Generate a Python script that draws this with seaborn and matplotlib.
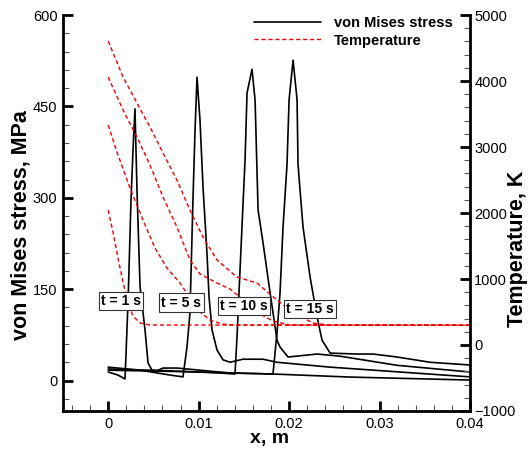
import numpy as np
import pandas as pd
import matplotlib
matplotlib.use("Agg")
import matplotlib.pyplot as plt
import seaborn as sns
from matplotlib.ticker import MultipleLocator, FixedLocator
from matplotlib.lines import Line2D

# ---------------- data ----------------
times = ["t = 1 s", "t = 5 s", "t = 10 s", "t = 15 s"]

# von Mises stress (MPa) along x (m)
s1_x = [0, 0.00108, 0.00186, 0.0022, 0.00252, 0.00274, 0.00296, 0.00318, 0.00352, 0.00407,
        0.0044, 0.00484, 0.0054, 0.00606, 0.00761, 0.01347, 0.01822, 0.02674, 0.04]
s1_y = [14, 9, 2.5, 132, 296, 378, 446, 313, 154, 83, 29, 17, 16, 20.5, 20.5, 12.3, 10.7, 5.7, 0.8]

s5_x = [0, 0.00352, 0.00683, 0.00827, 0.00871, 0.00904, 0.00937, 0.0096, 0.00982, 0.01015,
        0.01048, 0.01092, 0.01115, 0.01148, 0.01203, 0.0127, 0.01347, 0.0149, 0.01711, 0.01866,
        0.02452, 0.03226, 0.04]
s5_y = [22, 17, 9, 6, 55, 111, 296, 411, 498, 427, 318, 209, 137, 83, 50, 34, 30, 35, 35, 30,
        22, 14, 6]

s10_x = [0, 0.00683, 0.01236, 0.01402, 0.01424, 0.01446, 0.01479, 0.01513, 0.01535, 0.0159,
         0.01624, 0.01657, 0.01712, 0.0179, 0.01867, 0.019, 0.01988, 0.02309, 0.02563, 0.03193, 0.04]
s10_y = [19, 16, 12.3, 10.7, 71, 144, 252, 362, 472, 511, 460, 280, 226, 144, 66, 55, 38.6, 43.5,
         40, 25, 14]

s15_x = [0, 0.01015, 0.01822, 0.01866, 0.019, 0.01933, 0.01977, 0.02, 0.02044, 0.02088, 0.02099,
         0.02154, 0.02232, 0.0231, 0.02365, 0.02454, 0.02753, 0.02929, 0.03195, 0.03559, 0.04]
s15_y = [17, 14, 10.7, 78, 144, 252, 354, 461, 526, 461, 354, 252, 170, 104, 66, 45, 43.5, 43.5,
         38.6, 30, 25.5]

# Temperature (K) along x (m)
t1_x = [0, 0.00053, 0.00108, 0.00164, 0.00219, 0.00274, 0.00352, 0.00462, 0.04]
t1_y = [2045, 1712, 1318, 955, 636, 439, 333, 303, 300]

t5_x = [0, 0.00097, 0.00241, 0.00385, 0.00517, 0.0065, 0.00794, 0.00904, 0.01015, 0.01126,
        0.01258, 0.01402, 0.04]
t5_y = [3333, 2924, 2379, 1894, 1470, 1167, 939, 712, 500, 379, 318, 303, 300]

t10_x = [0, 0.00164, 0.00318, 0.00462, 0.00606, 0.0076, 0.00904, 0.01015, 0.01203, 0.01347,
         0.01535, 0.01679, 0.01822, 0.02011, 0.04]
t10_y = [4061, 3561, 3152, 2727, 2242, 1788, 1288, 1076, 939, 848, 636, 470, 364, 303, 300]

t15_x = [0, 0.00164, 0.00318, 0.00462, 0.00606, 0.0076, 0.00904, 0.01048, 0.01203, 0.01424,
         0.01645, 0.01866, 0.02044, 0.02265, 0.02454, 0.04]
t15_y = [4606, 4061, 3667, 3303, 2909, 2500, 2045, 1636, 1288, 1030, 939, 682, 485, 333, 300, 300]

# label positions (x, stress)
lab_x = [0.00145, 0.0081, 0.0150, 0.0223]
lab_y = [131, 128, 123, 118]

x_ticks = [0, 0.01, 0.02, 0.03, 0.04]
x_ticklabels = ["0", "0.01", "0.02", "0.03", "0.04"]

stress_sets = [(s1_x, s1_y), (s5_x, s5_y), (s10_x, s10_y), (s15_x, s15_y)]
temp_sets = [(t1_x, t1_y), (t5_x, t5_y), (t10_x, t10_y), (t15_x, t15_y)]

df_s = pd.concat([pd.DataFrame({"x": xs, "stress": ys, "time": t})
                  for t, (xs, ys) in zip(times, stress_sets)], ignore_index=True)
df_t = pd.concat([pd.DataFrame({"x": xs, "temp": ys, "time": t})
                  for t, (xs, ys) in zip(times, temp_sets)], ignore_index=True)

# ---------------- plot ----------------
sns.set_style("ticks")
plt.rcParams["font.family"] = ["Liberation Sans", "DejaVu Sans"]
for key in ("text.color", "axes.labelcolor", "xtick.color", "ytick.color", "axes.edgecolor"):
    plt.rcParams[key] = "black"

fig = plt.figure(figsize=(5.28, 4.51), dpi=100)
ax = fig.add_axes([0.1193, 0.0887, 0.7708, 0.878])
ax2 = ax.twinx()

sns.lineplot(data=df_s, x="x", y="stress", units="time", estimator=None, sort=False,
             color="black", linewidth=1.2, ax=ax, legend=False)
sns.lineplot(data=df_t, x="x", y="temp", units="time", estimator=None, sort=False,
             color="#ee0000", linewidth=1.0, linestyle=(0, (3, 2)), ax=ax2, legend=False)

ax.set_xlim(-0.005, 0.04)
ax.set_ylim(-50, 600)
ax2.set_ylim(-1000, 5000)

ax.xaxis.set_major_locator(FixedLocator(x_ticks))
ax.set_xticklabels(x_ticklabels)
ax.xaxis.set_minor_locator(MultipleLocator(0.002))
ax.yaxis.set_major_locator(MultipleLocator(150))
ax.yaxis.set_minor_locator(MultipleLocator(30))
ax2.yaxis.set_major_locator(MultipleLocator(1000))
ax2.yaxis.set_minor_locator(MultipleLocator(200))

for a in (ax, ax2):
    a.spines["top"].set_visible(False)
    a.tick_params(which="major", direction="in", length=7, width=2, labelsize=10.5, pad=4,
                  color="black", labelcolor="black")
    a.tick_params(which="minor", direction="in", length=4, width=0.8, color="#555555")
ax.spines["right"].set_visible(False)
ax2.spines["left"].set_visible(False)
ax2.spines["bottom"].set_visible(False)
for sp in (ax.spines["left"], ax.spines["bottom"], ax2.spines["right"]):
    sp.set_linewidth(2)
    sp.set_color("black")
ax2.tick_params(axis="y", which="major", pad=3)

ax.set_xlabel("x, m", fontsize=14, fontweight="bold")
ax.xaxis.set_label_coords(0.508, -0.07)
ax.xaxis.label.set_verticalalignment("center")

ax.set_ylabel("von Mises stress, MPa", fontsize=15.5, fontweight="bold")
ax.yaxis.set_label_coords(-0.103, 0.47)
ax.yaxis.label.set_horizontalalignment("center")
ax.yaxis.label.set_verticalalignment("center")

ax2.set_ylabel("Temperature, K", fontsize=15.5, fontweight="bold")
ax2.yaxis.set_label_coords(1.117, 0.41)
ax2.yaxis.label.set_horizontalalignment("center")
ax2.yaxis.label.set_verticalalignment("center")

for txt, lx, ly in zip(times, lab_x, lab_y):
    ax2.text(lx, ly, txt, transform=ax.transData, ha="center", va="center",
             fontsize=10, fontweight="bold", zorder=10,
             bbox=dict(boxstyle="square,pad=0.15", fc="white", ec="#333333", lw=0.8))

handles = [Line2D([], [], color="black", lw=1.2),
           Line2D([], [], color="#ee0000", lw=1.0, linestyle=(0, (3, 2)))]
ax2.legend(handles, ["von Mises stress", "Temperature"], loc="upper right",
           bbox_to_anchor=(0.965, 1.005), frameon=False,
           prop={"weight": "bold", "size": 10.5}, handlelength=4.6, handletextpad=0.9,
           borderaxespad=0, borderpad=0.2, labelspacing=0.25)

fig.savefig("out.png", dpi=100)
